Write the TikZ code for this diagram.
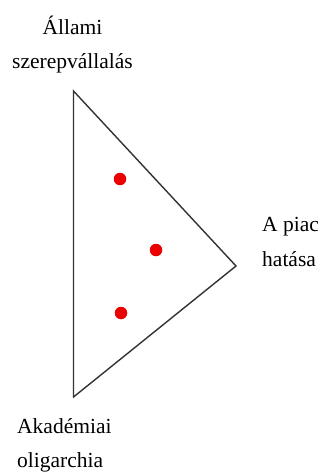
\documentclass[tikz,border=0pt]{standalone}
\usepackage{fontspec}
\setmainfont{Liberation Serif}
\begin{document}
\begin{tikzpicture}[x=1pt,y=-1pt,
  lbl/.style={inner sep=0pt,font=\fontsize{21.5}{25}\selectfont,text=black},
  dot/.style={circle,fill=red!92!black,draw=none,minimum size=12.5pt,inner sep=0pt},
  edge/.style={draw=black!80,line width=1.4pt,line join=miter}]
\useasboundingbox (0,0) rectangle (322,473);
\fill[white] (0,0) rectangle (322,473);
\coordinate (T) at (73.5,91);
\coordinate (R) at (236,266);
\coordinate (B) at (73.5,397);
\draw[edge] (T) -- (R) -- (B) -- cycle;
\node[dot] (d1) at (120,179) {};
\node[dot] (d2) at (156,250) {};
\node[dot] (d3) at (121,313) {};
\node[lbl,anchor=base] (t1) at (72.5,35) {Állami};
\node[lbl,anchor=base] (t2) at (72.5,69) {szerepvállalás};
\node[lbl,anchor=base west] (r1) at (262,231) {A piac};
\node[lbl,anchor=base west] (r2) at (262,266) {hatása};
\node[lbl,anchor=base west] (b1) at (17,433) {Akadémiai};
\node[lbl,anchor=base west] (b2) at (17,467) {oligarchia};
\end{tikzpicture}
\end{document}
